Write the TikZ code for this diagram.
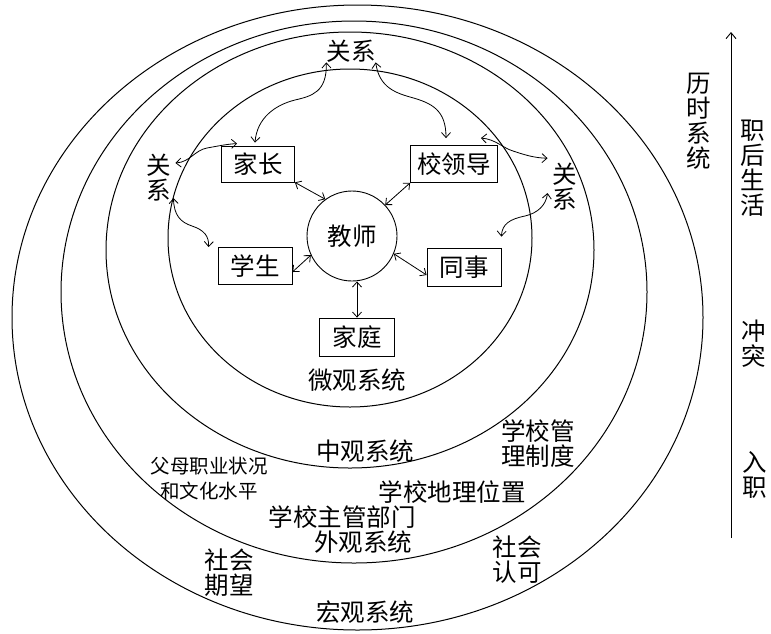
\documentclass[tikz,border=0pt]{standalone}
\usepackage{fontspec}
\setmainfont{Noto Sans CJK SC}
\usetikzlibrary{arrows.meta,calc}
\begin{document}
\begin{tikzpicture}[x=1pt,y=-1pt,
  lbl/.style={inner sep=0pt, font=\fontsize{24.5}{25}\selectfont, align=center},
  small/.style={inner sep=0pt, font=\fontsize{19.5}{25}\selectfont, align=center},
  box/.style={draw, line width=0.8pt, inner sep=0pt, minimum height=37pt, font=\fontsize{24.5}{25}\selectfont},
  ring/.style={line width=1pt},
  tip/.tip={Straight Barb[length=5pt,width=9pt]},
  dbl/.style={line width=0.8pt, tip-tip},
]
\useasboundingbox (0,0) rectangle (771,633);
% rings
\draw[ring] (350,238) ellipse [x radius=182pt, y radius=169pt];
\draw[ring] (350,250) ellipse [x radius=244pt, y radius=218pt];
\draw[ring] (354,292) ellipse [x radius=293pt, y radius=271pt];
\draw[ring] (357.5,317.5) ellipse [x radius=345.5pt, y radius=312.5pt];
% nodes
\node[draw, circle, line width=0.9pt, minimum size=90pt, inner sep=0pt, font=\fontsize{24.5}{25}\selectfont] (js) at (352,236) {教师};
\node[box, minimum width=73pt, minimum height=36pt] (jz) at (258,164) {家长};
\node[box, minimum width=87pt] (xld) at (454,164) {校领导};
\node[box, minimum width=74pt] (xs) at (255,266) {学生};
\node[box, minimum width=74pt, minimum height=38pt] (ts) at (464,267) {同事};
\node[box, minimum width=75pt, minimum height=38pt] (jt) at (357,337) {家庭};
\node[lbl] (gxT) at (351,51) {关系};
\node[lbl] (gxL) at (159,178) {关\\系};
\node[lbl] (gxR) at (565,187) {关\\系};
% texts
\node[lbl] (wg) at (357,380) {微观系统};
\node[lbl] (zg) at (365,451) {中观系统};
\node[small] (fm) at (209,479) {父母职业状况\\和文化水平};
\node[lbl] (xgl) at (538,444) {学校管\\理制度};
\node[lbl] (dl) at (452,492) {学校地理位置};
\node[lbl] (zgbm) at (342,517) {学校主管部门};
\node[lbl] (wgx) at (363,542) {外观系统};
\node[lbl] (shqw) at (229,573) {社会\\期望};
\node[lbl] (shrk) at (517,560) {社会\\认可};
\node[lbl] (hg) at (365,612) {宏观系统};
\node[lbl] (lsxt) at (699,121) {历\\时\\系\\统};
\node[lbl] (zhsh) at (753,168) {职\\后\\生\\活};
\node[lbl] (ct) at (754,344) {冲\\突};
\node[lbl] (rz) at (755,475) {入\\职};
% time arrow
\coordinate (tb) at (731,538);
\coordinate (tt) at (731,32);
\draw[line width=0.9pt, -{Straight Barb[length=6pt,width=10pt]}] (tb) -- (tt);
% straight double arrows
\draw[dbl] (jz.south east) -- (js.126);
\draw[dbl] (xld.south west) -- (js.43);
\draw[dbl] ($(xs.east)+(0,6)$) -- (js.205);
\draw[dbl] ($(ts.west)+(0,8)$) -- (js.337);
\draw[dbl] (js.south -| jt.north) -- (jt.north);
% wavy double arrows
\draw[dbl] (gxT.south west) .. controls (327,92) and (312,96) .. (295,100)
  .. controls (275,105) and (257,118) .. ($(jz.north)+(-3,-3)$);
\draw[dbl] (gxT.south east) .. controls (379,85) and (392,92) .. (410,97)
  .. controls (432,103) and (446,110) .. ($(xld.north)+(-8,-7)$);
\draw[dbl] ($(gxL.east)+(4,-15)$) .. controls (190,162) and (195,150) .. (207,148)
  .. controls (218,146) and (228,144) .. ($(jz.north west)+(16,-2)$);
\draw[dbl] ($(gxL.east)+(2,20)$) .. controls (174,215) and (180,222) .. (192,226)
  .. controls (204,230) and (209,236) .. ($(xs.north west)+(-9,0)$);
\draw[dbl] ($(xld.north east)+(-17,-7)$) .. controls (495,139) and (503,148) .. (513,151)
  .. controls (525,155) and (535,158) .. ($(gxR.north west)+(-5,-5)$);
\draw[dbl] ($(gxR.west)+(-5,6)$) .. controls (546,205) and (538,213) .. (525,216)
  .. controls (510,219) and (502,224) .. ($(ts.north east)+(0,-11)$);
\end{tikzpicture}
\end{document}
